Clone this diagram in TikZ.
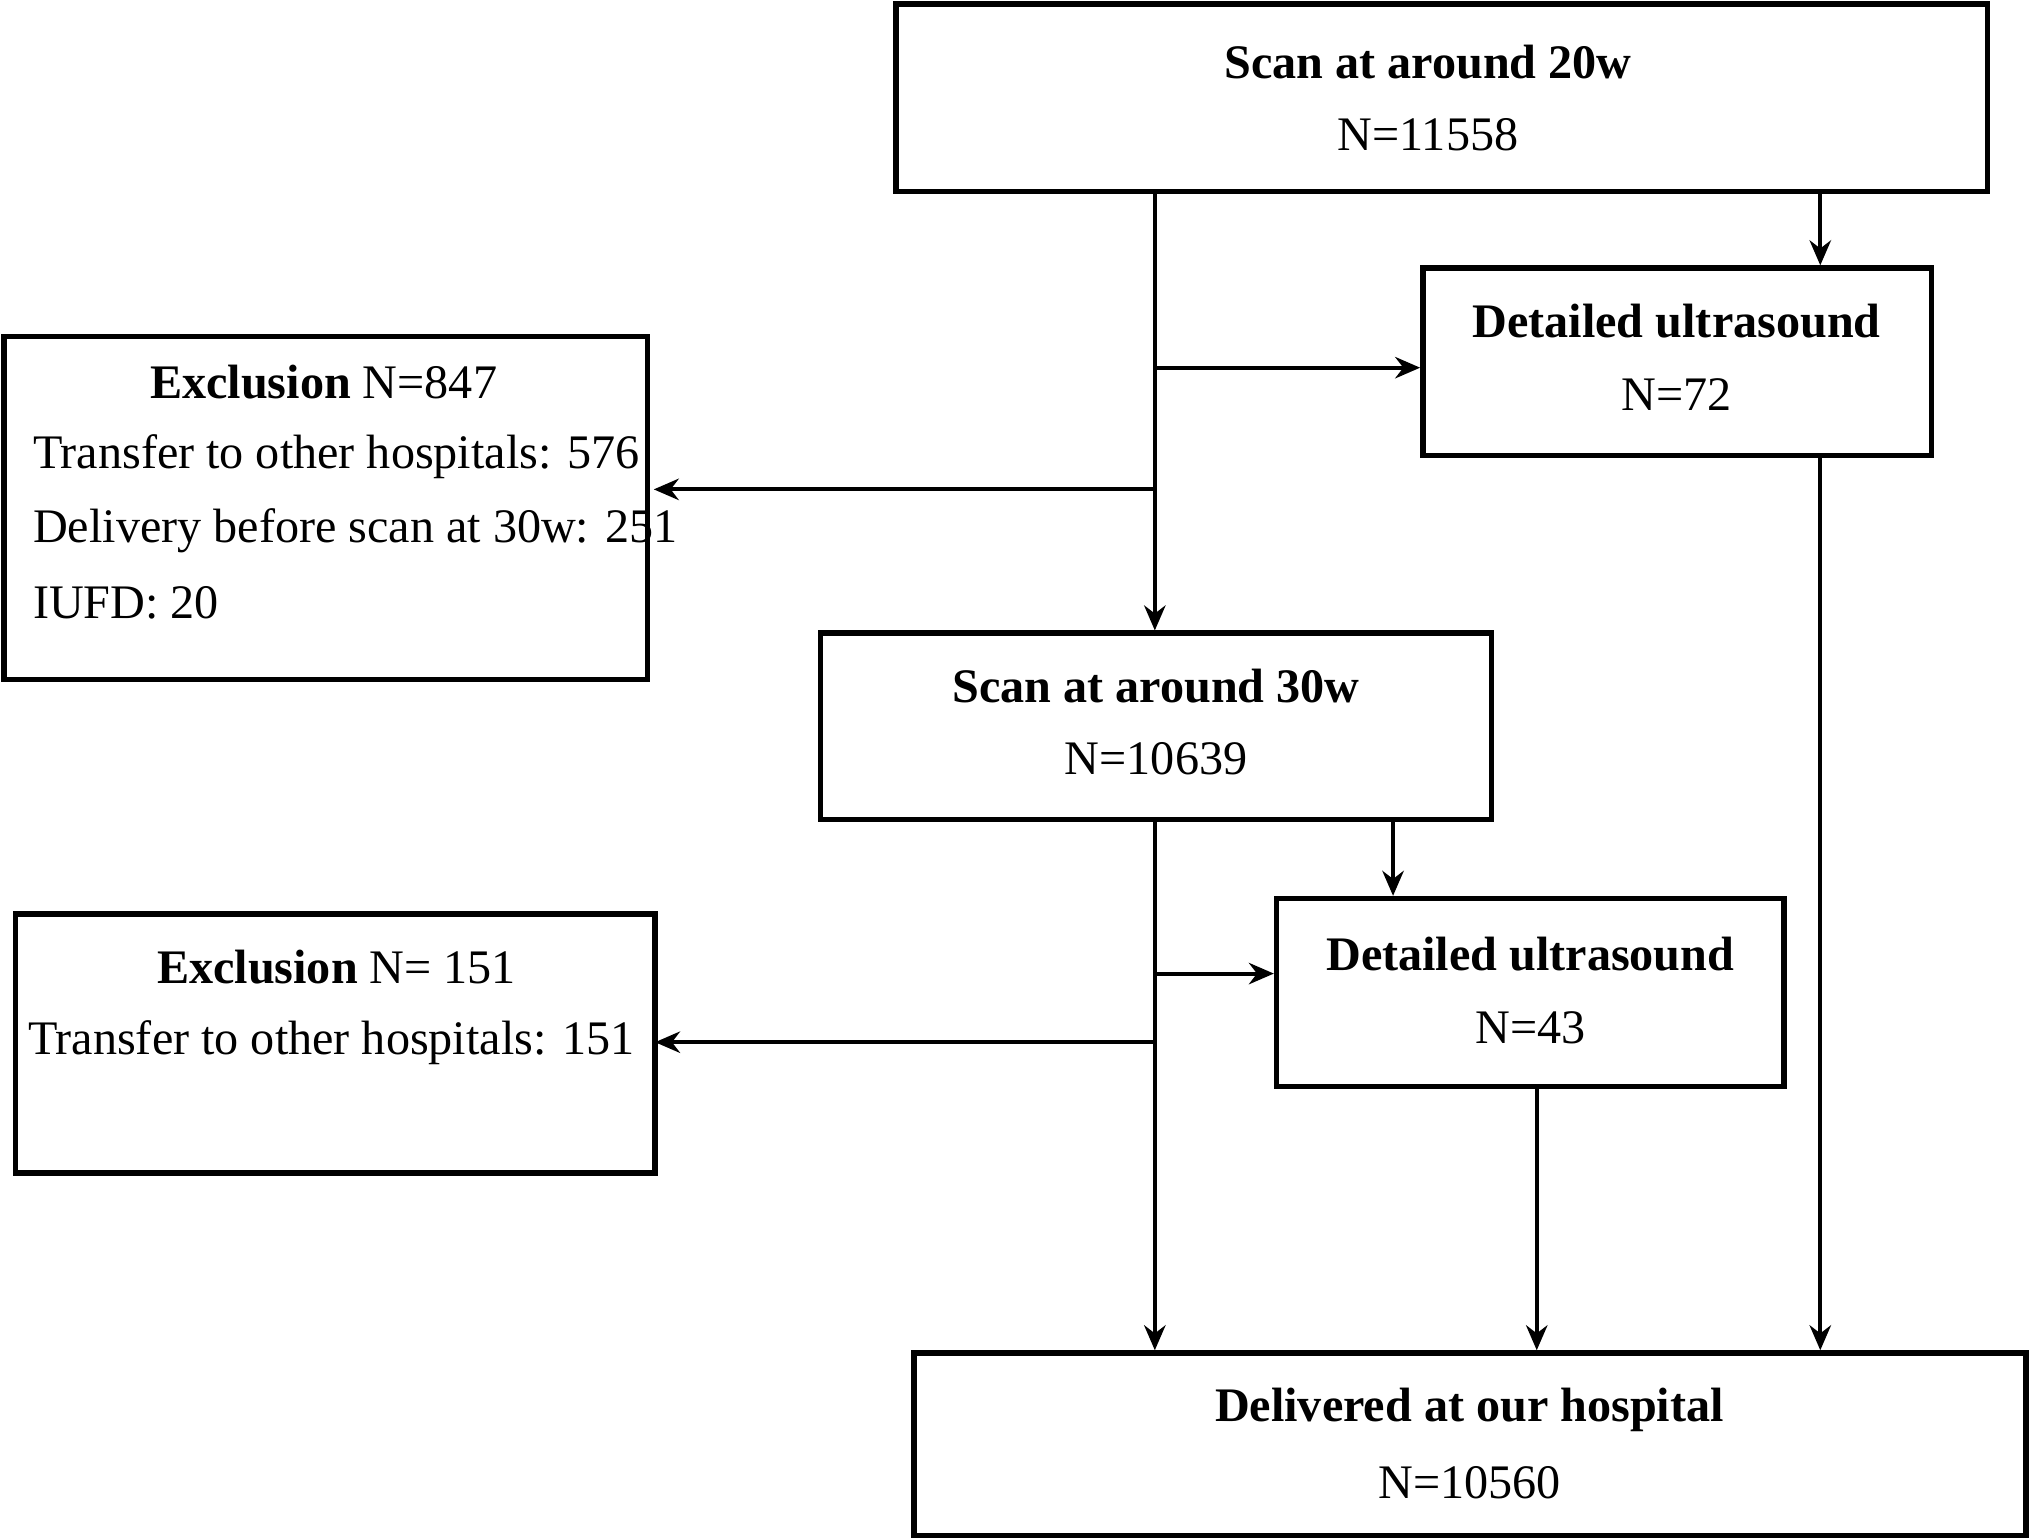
\documentclass[tikz,border=0pt]{standalone}
\usepackage{fontspec}
\setmainfont{Liberation Serif}
\usetikzlibrary{arrows.meta}
\begin{document}
\begin{tikzpicture}[x=0.01276cm,y=-0.01276cm,
  box/.style={draw,line width=1.5pt,minimum width=#1,inner sep=0pt},
  txt/.style={inner sep=0pt,font=\fontsize{13.5}{16}\selectfont},
  arr/.style={line width=1.1pt,-{Stealth[length=7pt,width=6pt]}},
  ln/.style={line width=1.1pt}]
\useasboundingbox (0,0) rectangle (1568,1189);
\newcommand\bx[5]{\node[draw,line width=1.5pt,inner sep=0pt,minimum width={(#4-#2)*0.01276cm},minimum height={(#5-#3)*0.01276cm}] (#1) at ({(#2+#4)/2},{(#3+#5)/2}) {};}
\bx{top}{692}{3}{1535}{148}
\bx{det1}{1099}{207}{1492}{352}
\bx{ex1}{3}{260}{500}{525}
\bx{s30}{634}{489}{1152}{633}
\bx{det2}{986}{694}{1378}{839}
\bx{ex2}{12}{706}{506}{906}
\bx{del}{706}{1045}{1565}{1186}
\node[txt,font=\fontsize{13.5}{16}\selectfont\bfseries] (t1) at (1103,48) {Scan at around 20w};
\node[txt] (t2) at (1103,104) {N=11558};
\node[txt,font=\fontsize{13.5}{16}\selectfont\bfseries] (d1) at (1295,248) {Detailed ultrasound};
\node[txt] (d1n) at (1295,305) {N=72};
\node[txt] (e1) at (250,295) {\textbf{Exclusion} N=847};
\node[txt,anchor=west] (e2) at (25,353) {Transfer to other hospitals: 576};
\node[txt,anchor=west] (e3) at (25,410) {Delivery before scan at 30w: 251};
\node[txt,anchor=west] (e4) at (25,466) {IUFD: 20};
\node[txt,font=\fontsize{13.5}{16}\selectfont\bfseries] (s1) at (893,530) {Scan at around 30w};
\node[txt] (s2) at (893,586) {N=10639};
\node[txt,font=\fontsize{13.5}{16}\selectfont\bfseries] (d2) at (1182,737) {Detailed ultrasound};
\node[txt] (d2n) at (1182,794) {N=43};
\node[txt] (f1) at (260,747) {\textbf{Exclusion} N= 151};
\node[txt] (f2) at (256,805) {Transfer to other hospitals: 151};
\node[txt,font=\fontsize{13.5}{16}\selectfont\bfseries] (l1) at (1135,1089) {Delivered at our hospital};
\node[txt] (l2) at (1135,1145) {N=10560};
\coordinate (a) at (892,284);
\coordinate (b) at (892,378);
\coordinate (c) at (892,752);
\coordinate (d) at (892,805);
\draw[arr] (top.south -| s30.north) ++(258,0) coordinate (tmp) (892,148) -- (s30.north -| 892,0);
\draw[arr] (a) -- (a -| det1.west);
\draw[arr] (b) -- (505,378);
\draw[arr] (top.south -| 1406,0) -- (det1.north -| 1406,0);
\draw[arr] (det1.south -| 1406,0) -- (del.north -| 1406,0);
\draw[arr] (s30.south -| 892,0) -- (del.north -| 892,0);
\draw[arr] (c) -- (c -| det2.west);
\draw[arr] (d) -- (506,805);
\draw[arr] (s30.south -| 1076,0) -- (det2.north -| 1076,0);
\draw[arr] (det2.south -| 1187,0) -- (del.north -| 1187,0);
\end{tikzpicture}
\end{document}
